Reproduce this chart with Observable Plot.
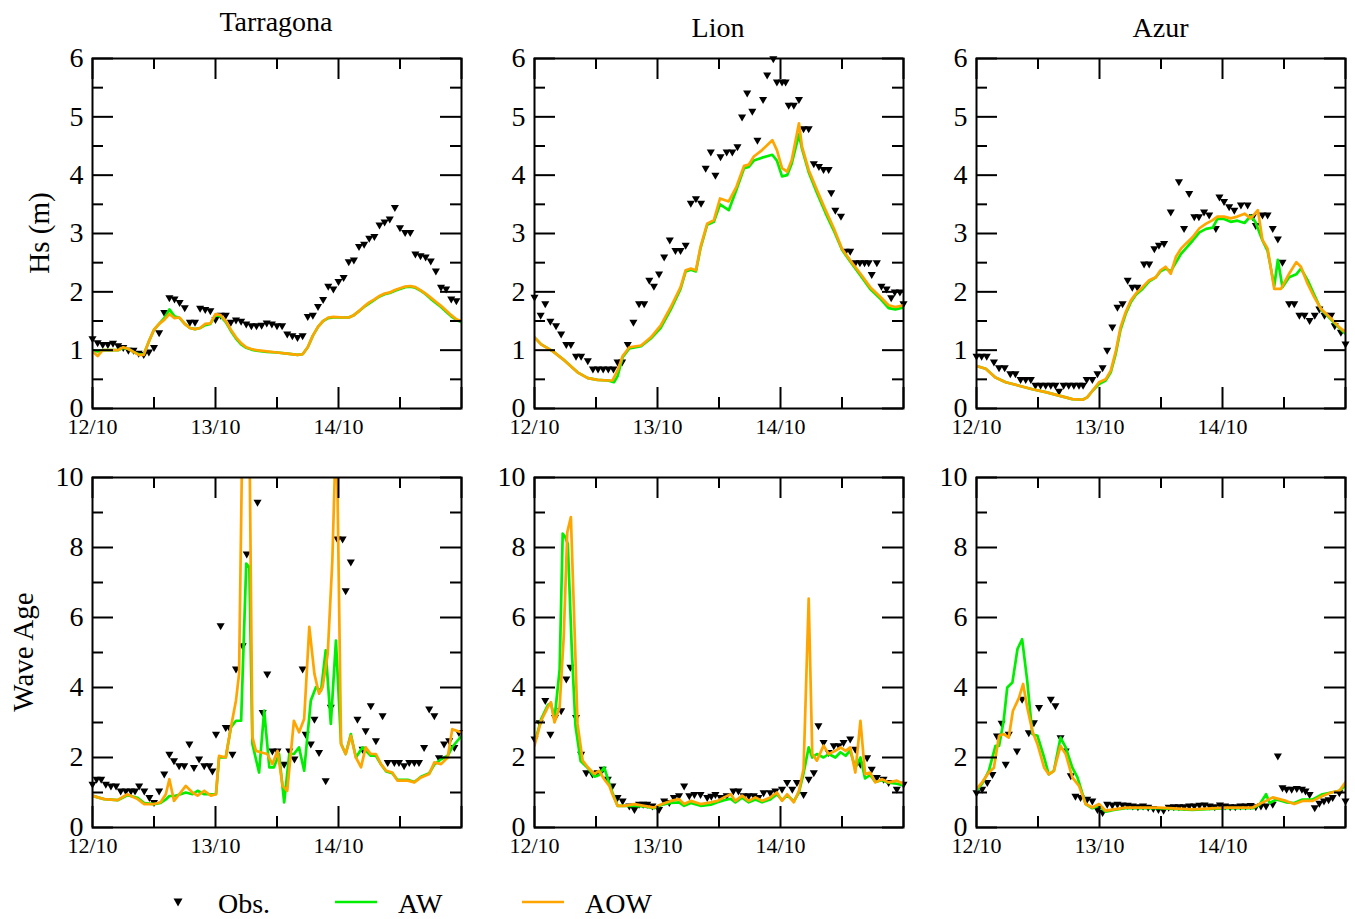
<!DOCTYPE html>
<html><head><meta charset="utf-8">
<script src="https://cdn.jsdelivr.net/npm/d3@7"></script>
<script src="https://cdn.jsdelivr.net/npm/@observablehq/plot@0.6"></script>
<style>
body{margin:0;background:#fff;}
#chart{position:relative;width:1355px;height:919px;overflow:hidden;background:#fff;font-family:"Liberation Serif",serif;}
#chart > svg{position:absolute;margin:0;}
#chart svg, #chart svg text{font-family:"Liberation Serif","Times New Roman",serif !important;}
#chart g[aria-label="y-axis tick label"]{font-size:28px !important;}
#chart g[aria-label="x-axis tick label"]{font-size:22px !important;}
</style></head><body><div id="chart"></div>
<script>
// ---------- axis ticks / labels ----------
const xMajor = [0, 24, 48, 72];
const xMinor = [12, 36, 60];
const xLabels = ["12/10", "13/10", "14/10"];
const hsMajor = [0, 1, 2, 3, 4, 5, 6];
const hsMinor = [0.5, 1.5, 2.5, 3.5, 4.5, 5.5];
const waMajor = [0, 2, 4, 6, 8, 10];
const waMinor = [1, 3, 5, 7, 9];
const stations = ["Tarragona", "Lion", "Azur"];
const seriesNames = ["Obs.", "AW", "AOW"];

// ---------- data: [hour since 12/10 00:00, value] ----------
// Tarragona Hs
const tarHsObs = [[0,1.2],[1,1.13],[2,1.1],[3,1.1],[4,1.12],[5,1.08],[6,1.05],[7,1.0],[8,1.0],[9,0.95],[10,0.93],[11,0.97],[12,1.05],[13,1.3],[14,1.65],[15,1.9],[16,1.88],[17,1.82],[18,1.73],[19,1.48],[20,1.48],[21,1.72],[22,1.7],[23,1.68],[24,1.53],[25,1.6],[26,1.6],[27,1.48],[28,1.52],[29,1.5],[30,1.45],[31,1.42],[32,1.42],[33,1.43],[34,1.47],[35,1.45],[36,1.42],[37,1.42],[38,1.28],[39,1.25],[40,1.22],[41,1.25],[42,1.58],[43,1.6],[44,1.75],[45,1.87],[46,2.1],[47,2.05],[48,2.18],[49,2.25],[50,2.52],[51,2.55],[52,2.78],[53,2.82],[54,2.92],[55,2.95],[56,3.15],[57,3.2],[58,3.25],[59,3.45],[60,3.1],[61,3.02],[62,3.02],[63,2.65],[64,2.62],[65,2.6],[66,2.53],[67,2.36],[68,2.08],[69,2.05],[70,1.88],[71,1.85]];
const tarHsAw = [[0,1.0],[1,0.98],[2,1.0],[4,1.0],[5,1.0],[6,1.04],[7,1.02],[8,0.97],[9,0.93],[10,0.93],[11,1.15],[12,1.35],[13,1.45],[14,1.55],[15,1.7],[16,1.58],[17,1.55],[18,1.45],[19,1.38],[20,1.36],[21,1.38],[22,1.43],[23,1.45],[24,1.6],[25,1.58],[26,1.48],[27,1.33],[28,1.2],[29,1.1],[30,1.04],[31,1.01],[32,0.99],[34,0.97],[36,0.96],[38,0.94],[40,0.92],[41,0.93],[42,1.05],[43,1.25],[44,1.4],[45,1.5],[46,1.55],[47,1.56],[49,1.56],[50,1.56],[51,1.6],[52,1.67],[53,1.74],[54,1.8],[55,1.86],[56,1.92],[57,1.96],[58,1.98],[59,2.02],[60,2.05],[61,2.08],[62,2.09],[63,2.07],[64,2.02],[65,1.96],[66,1.88],[67,1.81],[68,1.74],[69,1.66],[70,1.58],[71,1.52],[72,1.48]];
const tarHsAow = [[0,0.98],[1,0.9],[2,1.0],[4,1.0],[5,1.0],[6,1.05],[7,1.02],[8,0.97],[9,0.92],[10,0.92],[11,1.15],[12,1.35],[13,1.45],[14,1.52],[15,1.62],[16,1.55],[17,1.56],[18,1.45],[19,1.38],[20,1.36],[21,1.38],[22,1.45],[23,1.46],[24,1.62],[25,1.6],[26,1.5],[27,1.35],[28,1.22],[29,1.12],[30,1.05],[31,1.02],[32,1.0],[34,0.98],[36,0.96],[38,0.94],[40,0.92],[41,0.93],[42,1.05],[43,1.25],[44,1.4],[45,1.5],[46,1.56],[47,1.57],[49,1.56],[50,1.56],[51,1.6],[52,1.67],[53,1.75],[54,1.82],[55,1.87],[56,1.93],[57,1.97],[58,1.99],[59,2.03],[60,2.06],[61,2.09],[62,2.1],[63,2.08],[64,2.03],[65,1.97],[66,1.9],[67,1.83],[68,1.76],[69,1.68],[70,1.6],[71,1.53],[72,1.5]];

// Lion Hs
const lionHsObs = [[0,1.91],[1.2,1.6],[2.1,1.8],[3.1,1.5],[4.2,1.42],[5.2,1.28],[6.2,1.1],[7.1,1.1],[8.1,0.9],[9.1,0.9],[10.4,0.82],[11.4,0.68],[12.4,0.68],[13.4,0.68],[14.4,0.68],[15.4,0.68],[16.2,0.8],[17.1,0.8],[18.2,1.1],[19.3,1.48],[20.4,1.8],[21.4,1.8],[22.4,2.2],[23.3,2.1],[24.3,2.31],[25.3,2.6],[26.4,2.89],[27.5,2.71],[28.5,2.71],[29.5,2.8],[30.5,3.52],[31.5,3.6],[32.5,3.52],[33.4,4.12],[34.4,4.4],[35.3,4.0],[36.3,4.32],[37.5,4.4],[38.6,4.4],[39.6,4.49],[40.5,5.0],[41.5,5.41],[42.5,5.1],[43.5,4.6],[44.6,5.3],[45.4,5.72],[46.6,6.0],[47.3,5.6],[48.3,5.6],[49.0,5.6],[49.6,5.2],[50.6,5.2],[51.6,5.3],[52.5,4.8],[53.5,4.8],[54.5,4.2],[55.5,4.15],[56.4,4.1],[57.4,4.1],[57.9,3.7],[58.7,3.4],[59.8,3.3],[60.7,2.7],[61.6,2.7],[62.6,2.5],[63.5,2.5],[64.4,2.5],[65.2,2.5],[65.8,2.3],[66.8,2.5],[67.7,2.1],[68.7,2.05],[69.6,1.9],[70.3,2.0],[71.3,2.0],[72,1.8]];
const lionHsAw = [[0,1.22],[1.3,1.1],[3.6,0.98],[5.9,0.82],[8.4,0.62],[10.4,0.52],[12.3,0.49],[14.3,0.48],[15.5,0.45],[16.2,0.55],[17.2,0.88],[18.5,1.03],[20.8,1.07],[22.7,1.2],[24.6,1.38],[26.6,1.7],[28.5,2.05],[29.5,2.35],[30.5,2.38],[31.5,2.35],[32.4,2.75],[33.7,3.15],[35,3.2],[36.2,3.5],[37.9,3.4],[39.4,3.75],[40.9,4.12],[41.8,4.14],[42.8,4.25],[44.4,4.3],[46.4,4.35],[47.3,4.25],[48.3,3.98],[49.3,4.0],[50.2,4.2],[51.6,4.7],[52.2,4.45],[53.5,4.05],[55.1,3.7],[56.8,3.35],[58.4,3.05],[60,2.72],[61.6,2.52],[63.6,2.28],[65.5,2.05],[67.5,1.88],[69.1,1.72],[70.4,1.7],[72,1.73]];
const lionHsAow = [[0,1.22],[1.3,1.1],[3.6,0.98],[5.9,0.82],[8.4,0.62],[10.4,0.52],[12.3,0.49],[14.3,0.48],[15.2,0.48],[16.2,0.65],[17.2,0.9],[18.5,1.05],[20.8,1.08],[22.7,1.22],[24.6,1.42],[26.6,1.74],[28.5,2.08],[29.5,2.37],[30.5,2.4],[31.5,2.37],[32.4,2.77],[33.7,3.17],[35,3.23],[36.2,3.6],[37.9,3.55],[39.4,3.8],[40.9,4.16],[41.8,4.18],[42.8,4.32],[44.4,4.43],[46.4,4.6],[47.3,4.43],[48.3,4.12],[49.3,4.06],[50.2,4.26],[51.6,4.89],[52.2,4.49],[53.5,4.09],[55.1,3.75],[56.8,3.4],[58.4,3.09],[60,2.74],[61.6,2.54],[63.6,2.31],[65.5,2.08],[67.5,1.91],[69.1,1.77],[70.4,1.74],[72,1.77]];

// Azur Hs
const azurHsObs = [[0,0.9],[1,0.9],[2,0.9],[3.4,0.8],[4.4,0.7],[5.5,0.7],[6.6,0.6],[7.6,0.6],[8.6,0.5],[9.6,0.5],[10.6,0.5],[11.5,0.4],[12.5,0.4],[13.5,0.4],[14.5,0.4],[15.4,0.4],[16.1,0.3],[17,0.4],[18,0.4],[19,0.4],[20,0.4],[20.8,0.4],[21.5,0.5],[22.6,0.5],[23.6,0.6],[24.6,0.7],[25.5,1.0],[26.5,1.4],[27.5,1.74],[28.5,1.8],[29.5,2.2],[30.4,2.08],[31.4,2.08],[32.7,2.48],[33.7,2.48],[34.7,2.74],[35.6,2.8],[36.6,2.83],[37.9,3.37],[39.5,3.89],[40.5,3.09],[41.5,3.69],[42.5,3.29],[43.4,3.29],[44.4,3.37],[45.4,3.32],[46.7,3.09],[47.4,3.63],[48.3,3.55],[49.3,3.46],[50.3,3.4],[51.6,3.49],[52.9,3.49],[53.9,3.29],[54.5,3.14],[55.8,3.32],[56.8,3.32],[57.8,3.09],[58.8,2.91],[59.7,2.51],[61,1.8],[62,1.8],[63,1.6],[64,1.6],[65,1.51],[66,1.6],[66.9,1.71],[67.9,1.6],[69.2,1.6],[69.9,1.42],[71.1,1.31],[72,1.11]];
const azurHsAw = [[0,0.73],[1.8,0.68],[3.7,0.53],[5.7,0.45],[8.3,0.39],[10.9,0.33],[13.5,0.28],[16.1,0.22],[18.7,0.16],[20.7,0.15],[21.6,0.19],[22.6,0.3],[23.9,0.42],[25.2,0.48],[26.2,0.62],[27.2,0.95],[28.1,1.35],[29.1,1.62],[30.1,1.82],[31.1,1.95],[32.4,2.05],[33.7,2.18],[35,2.25],[35.9,2.35],[36.9,2.4],[37.9,2.35],[38.9,2.5],[39.9,2.65],[40.9,2.75],[42.2,2.88],[43.5,3.02],[44.8,3.08],[46.1,3.1],[47,3.25],[48.3,3.25],[49.6,3.2],[50.9,3.22],[52.3,3.18],[53.5,3.3],[54.4,3.2],[55.8,2.88],[56.8,2.7],[58.1,2.1],[58.8,2.55],[59.7,2.08],[61,2.25],[62.4,2.3],[63.3,2.4],[64.6,2.2],[65.9,1.95],[67.2,1.7],[68.9,1.55],[70.8,1.38],[72,1.28]];
const azurHsAow = [[0,0.73],[1.8,0.68],[3.7,0.53],[5.7,0.45],[8.3,0.39],[10.9,0.33],[13.5,0.28],[16.1,0.22],[18.7,0.16],[20.7,0.15],[21.6,0.19],[22.6,0.3],[23.9,0.45],[25.2,0.5],[26.2,0.65],[27.2,0.99],[28.1,1.39],[29.1,1.65],[30.1,1.85],[31.1,1.97],[32.4,2.08],[33.7,2.2],[35,2.25],[35.9,2.37],[36.9,2.43],[37.9,2.31],[38.9,2.6],[39.9,2.74],[40.9,2.83],[42.2,2.94],[43.5,3.09],[44.8,3.17],[46.1,3.23],[47,3.29],[48.3,3.29],[49.6,3.26],[50.9,3.29],[52.3,3.34],[53.5,3.26],[54.9,3.4],[55.8,2.89],[56.8,2.74],[58.1,2.05],[59.4,2.05],[61,2.31],[62.4,2.51],[63.3,2.43],[64.6,2.14],[65.9,1.91],[67.2,1.71],[68.9,1.57],[70.8,1.39],[72,1.31]];

// Tarragona wave age
const tarWaObs = [[0,1.24],[0.8,1.38],[1.7,1.38],[2.6,1.24],[3.6,1.19],[4.6,1.19],[5.5,1.05],[6.5,1.05],[7.5,1.05],[8.3,1.05],[9.1,1.19],[10.1,1.05],[11.1,0.86],[12,0.72],[13,1.05],[14,1.53],[15,2.1],[15.9,1.91],[16.9,1.77],[17.9,1.77],[18.9,2.39],[19.8,1.72],[20.8,1.96],[21.8,1.77],[22.8,1.77],[23.4,1.62],[24.1,2.67],[25,5.77],[26,2.86],[26.7,2.86],[27.3,2.1],[28,4.53],[29.3,5.2],[30.1,7.82],[32.2,9.3],[33.2,3.29],[34.1,4.39],[35.1,2.19],[36.1,2.19],[37.4,1.81],[38.4,2.19],[39.4,1.96],[41,4.53],[41.6,2.67],[42.6,2.39],[43.3,3.1],[44.2,2.15],[45.5,1.34],[46.5,3.44],[47.8,8.25],[48.8,8.25],[49.4,6.77],[50.4,7.59],[51.7,3.1],[52.7,2.24],[53.3,2.77],[54.3,3.48],[55.3,2.48],[56.6,3.2],[57.6,1.86],[58.9,1.86],[59.8,1.86],[60.8,1.77],[61.8,1.86],[62.8,1.86],[63.7,1.86],[64.7,2.29],[65.7,3.39],[66.7,3.2],[67.6,2.0],[68.6,2.39],[69.6,2.48],[70.6,2.29],[71.5,2.72]];
const tarWaAw = [[0,0.91],[1,0.86],[2.3,0.81],[4.9,0.78],[6.8,0.92],[8.8,0.85],[10.1,0.7],[12,0.67],[13.3,0.7],[14.3,0.8],[15,0.9],[16,0.9],[17.2,0.95],[18.2,1.0],[19.5,0.95],[20.5,1.05],[21.8,0.95],[23.1,0.95],[24.1,0.95],[24.7,2.0],[26,2.0],[27,2.86],[28,3.05],[29,3.05],[30,7.54],[30.6,7.44],[31.2,2.39],[32.5,1.57],[33.5,3.34],[34.5,1.72],[35.4,1.72],[36.4,2.1],[37.4,0.72],[38.4,2.1],[39.3,2.1],[40.3,2.29],[41.3,1.62],[42.6,3.63],[43.6,4.01],[44.6,3.91],[45.5,5.06],[46.5,2.96],[47.5,5.34],[48.5,2.39],[49.4,2.1],[50.4,2.67],[51.4,2.0],[52.7,2.29],[54.3,2.05],[55.3,2.05],[56.3,1.8],[57.3,1.6],[58.5,1.55],[59.5,1.36],[61.5,1.36],[62.8,1.3],[64.1,1.45],[65.7,1.55],[66.7,1.8],[68,1.95],[69.3,2.05],[70.2,2.3],[71.9,2.6]];
const tarWaAow = [[0,0.91],[1,0.86],[2.3,0.81],[4.9,0.78],[6.8,0.95],[8.8,0.81],[10.1,0.67],[12,0.67],[13.3,0.72],[14.3,0.95],[15,1.38],[15.9,0.76],[17.2,1.0],[18.2,1.19],[19.5,1.0],[20.5,0.91],[21.8,1.05],[23.1,0.91],[24.1,0.95],[24.7,2.05],[26,2.0],[27,2.86],[28,3.63],[28.6,4.39],[29.4,13],[30.5,13],[31.2,2.58],[31.9,2.19],[32.8,2.15],[34.1,2.1],[35.1,1.81],[36.1,2.19],[37.1,1.19],[38,1.05],[39.3,3.05],[40.3,2.72],[41.3,3.1],[42.3,5.73],[43.3,4.39],[44.2,3.82],[44.9,4.01],[45.9,4.96],[46.8,7.63],[47.6,11.8],[48.5,2.39],[49.4,2.1],[50.4,2.62],[51.4,2.0],[52.4,1.72],[53.3,2.29],[54.3,2.1],[55.3,2.1],[56.3,1.81],[57.3,1.62],[58.5,1.57],[59.5,1.34],[61.5,1.34],[62.8,1.29],[64.1,1.43],[65.7,1.53],[66.7,1.86],[68,1.81],[69.3,2.0],[70.2,2.81],[71.9,2.72]];

// Lion wave age
const lionWaObs = [[0,2.53],[1,3.0],[2.1,3.63],[3.1,2.67],[4,3.15],[5.2,3.34],[6.2,4.25],[7,4.58],[8.1,3.15],[9.1,2.1],[10.1,1.57],[11.3,1.53],[12.3,1.57],[13.3,1.67],[14.3,1.38],[15.2,1.19],[16.2,0.86],[17.2,0.76],[18.5,0.62],[19.5,0.52],[20.4,0.67],[21.2,0.67],[22,0.67],[23,0.62],[24.3,0.52],[25.3,0.76],[26.3,0.72],[27.2,0.86],[28.2,0.91],[29.2,1.19],[30.2,0.91],[31.2,0.95],[32.4,0.95],[33.7,0.86],[34.5,0.9],[35.3,0.95],[36.3,0.86],[37.5,0.91],[38.8,1.05],[39.8,1.05],[40.8,0.91],[41.8,0.91],[42.8,0.91],[43.7,0.86],[44.7,1.0],[46,1.0],[47,1.05],[48.3,1.1],[49.3,1.29],[50.3,1.1],[51.2,1.29],[52.5,0.95],[53.5,1.38],[54.5,1.57],[55.4,2.91],[56.4,2.43],[57.4,2.15],[58.4,2.34],[59.4,2.34],[60.3,2.43],[61.6,2.53],[62.6,2.24],[63.6,1.81],[64.9,2.0],[65.8,1.67],[66.8,1.43],[68.1,1.38],[69.1,1.29],[70.7,1.1],[72,1.24]];
const lionWaAw = [[0,2.4],[1.3,3.1],[2.6,3.5],[3.2,3.55],[3.9,3.1],[4.9,4.5],[5.5,8.4],[6.0,8.3],[6.5,8.1],[7.3,5.0],[8.0,2.9],[9.0,1.9],[10.4,1.7],[11.7,1.45],[12.6,1.5],[13.6,1.72],[14.6,1.25],[15.2,1.0],[16.2,0.62],[17.5,0.62],[19.5,0.62],[21.4,0.6],[23.3,0.55],[24.9,0.65],[26.6,0.7],[28.2,0.72],[29.2,0.62],[30.5,0.7],[32.4,0.62],[34.4,0.65],[35.7,0.72],[37,0.78],[38.3,0.82],[39.2,0.72],[40.5,0.85],[41.8,0.72],[43.1,0.8],[44.4,0.72],[46,0.8],[47.3,0.95],[48.3,0.78],[49.3,0.92],[50.6,0.75],[51.6,1.0],[52.5,1.55],[53.5,2.29],[54.2,2.0],[55.1,2.1],[56.4,2.0],[57.4,2.1],[58.7,2.0],[59.7,2.15],[60.7,2.05],[61.6,2.2],[62.6,1.7],[63.6,2.0],[64.5,1.4],[65.5,1.5],[66.5,1.3],[67.8,1.35],[69.1,1.28],[70.7,1.25],[72,1.2]];
const lionWaAow = [[0,2.34],[1.3,3.05],[2.6,3.44],[3.2,3.58],[3.9,3.0],[4.9,3.44],[5.7,5.44],[6.4,8.44],[7.1,8.87],[7.8,5.73],[8.4,2.96],[9.4,1.91],[10.4,1.72],[11.7,1.53],[12.6,1.62],[13.6,1.38],[14.6,1.19],[15.2,0.95],[16.2,0.62],[17.5,0.62],[19.5,0.67],[21.4,0.62],[23.3,0.57],[24.9,0.67],[26.6,0.76],[28.2,0.81],[29.2,0.67],[30.5,0.76],[32.4,0.67],[34.4,0.72],[35.7,0.76],[37,0.86],[38.3,0.95],[39.2,0.76],[40.5,0.91],[41.8,0.76],[43.1,0.86],[44.4,0.76],[46,0.86],[47.3,1.0],[48.3,0.76],[49.3,0.95],[50.6,0.72],[51.6,1.05],[52.5,1.67],[53.5,6.54],[54.2,2.1],[55.1,1.91],[56.4,2.34],[57.4,2.1],[58.7,2.19],[59.7,2.29],[60.7,2.19],[61.6,2.29],[62.6,1.57],[63.6,3.05],[64.5,1.53],[65.5,1.57],[66.5,1.29],[67.8,1.38],[69.1,1.29],[70.7,1.34],[72,1.24]];

// Azur wave age
const azurWaObs = [[0,1.0],[1.1,1.1],[2.1,1.29],[3.1,1.52],[4,2.62],[4.9,2.98],[5.7,1.81],[6.3,2.67],[7.9,2.19],[8.9,3.67],[10.2,2.71],[11.2,3.0],[12.2,3.43],[14.5,3.67],[15.4,3.48],[16.4,2.57],[17.4,2.19],[18.4,1.48],[19.3,0.9],[20.3,0.86],[21.6,0.81],[22.6,0.76],[23.6,0.52],[24.6,0.43],[25.5,0.67],[26.5,0.65],[27.5,0.67],[28.5,0.65],[29.5,0.64],[30.5,0.62],[31.5,0.6],[32.5,0.62],[33.5,0.58],[34.5,0.55],[35.5,0.52],[36.5,0.5],[37.5,0.58],[38.5,0.6],[39.5,0.6],[40.5,0.6],[41.5,0.62],[42.5,0.62],[43.5,0.64],[44.5,0.65],[45.5,0.62],[46.5,0.6],[47.5,0.65],[48.5,0.62],[49.5,0.6],[50.5,0.6],[51.5,0.62],[52.5,0.62],[53.5,0.63],[54.5,0.6],[55.5,0.62],[56.5,0.62],[57.8,0.67],[58.8,2.05],[59.7,1.14],[60.5,1.1],[61.5,1.1],[62.5,1.12],[63.5,1.1],[64.2,1.05],[65,0.95],[66,0.57],[66.9,0.7],[67.8,0.76],[68.7,0.8],[69.5,0.86],[70.8,1.0],[72,0.76]];
const azurWaAw = [[0,1.05],[1.1,1.25],[2.4,1.62],[3.7,2.33],[4.4,2.33],[5.3,3.05],[6,4.0],[7,4.14],[8,5.1],[8.9,5.38],[9.9,4.19],[10.9,2.67],[11.9,2.62],[13.2,2.0],[14.1,1.52],[15.1,1.62],[16.4,2.57],[17.4,2.29],[18.7,1.71],[19.7,1.43],[21.3,0.67],[22.6,0.55],[23.9,0.62],[25.2,0.45],[26.8,0.5],[29.1,0.55],[35.6,0.55],[42.1,0.5],[48.7,0.55],[53.9,0.55],[55.2,0.65],[56.5,0.95],[57.2,0.7],[58.5,0.8],[60.4,0.72],[62,0.7],[63.6,0.8],[65.6,0.8],[67.5,0.95],[69.2,1.0],[70.8,1.05],[72,1.2]];
const azurWaAow = [[0,1.1],[1.1,1.29],[2.4,1.57],[3.4,1.71],[4.4,2.62],[5.3,2.67],[6.3,2.57],[7.1,3.33],[8.3,3.71],[9.1,4.1],[9.9,3.43],[10.9,2.76],[11.9,2.38],[13.2,1.71],[14.1,1.52],[15.1,1.62],[16.4,2.33],[17.4,2.1],[18.7,1.43],[20,1.19],[21.3,0.67],[22.6,0.57],[23.9,0.67],[25.2,0.48],[26.8,0.52],[29.1,0.57],[35.6,0.57],[42.1,0.52],[48.7,0.57],[53.9,0.57],[55.2,0.67],[56.5,0.76],[57.8,0.86],[59.1,0.81],[60.4,0.76],[62,0.67],[63.6,0.76],[65.6,0.76],[67.5,0.9],[69.2,1.0],[70.8,1.05],[72,1.29]];

// ---------- layout ----------
const GREEN = "#00ee00", ORANGE = "#ffa500";
const FW = 369, FH = 350, ML = 70, MR = 14, MT = 14, MB = 44;
const colX = [91.5, 533.5, 976];
const rowY = [58, 477];
const FONT = '"Liberation Serif", "Times New Roman", serif';
const chart = document.getElementById("chart");

function panel(obs, aw, aow, yMax, yMajor, yMinor, fx, fy) {
  const X = d => d[0], Y = d => d[1];
  const tickX = (ticks, len, side) => Plot.ruleX(ticks, {x: d => d, stroke: "#000", strokeWidth: 2,
    insetTop: side === "bottom" ? FH - len : 0, insetBottom: side === "top" ? FH - len : 0});
  const tickY = (ticks, len, side) => Plot.ruleY(ticks, {y: d => d, stroke: "#000", strokeWidth: 2,
    insetRight: side === "left" ? FW - len : 0, insetLeft: side === "right" ? FW - len : 0});
  const svg = Plot.plot({
    width: FW + ML + MR, height: FH + MT + MB,
    marginLeft: ML, marginRight: MR, marginTop: MT, marginBottom: MB,
    x: {domain: [0, 72]},
    y: {domain: [0, yMax]},
    style: {fontFamily: FONT, color: "#000", background: "transparent", overflow: "visible"},
    marks: [
      Plot.dot(obs, {x: X, y: Y, symbol: "triangle", rotate: 180, r: 3, fill: "#000", stroke: "none"}),
      Plot.line(aw, {x: X, y: Y, stroke: GREEN, strokeWidth: 2.7, clip: true}),
      Plot.line(aow, {x: X, y: Y, stroke: ORANGE, strokeWidth: 2.7, clip: true}),
      tickX(xMajor, 21, "bottom"), tickX(xMajor, 21, "top"),
      tickX(xMinor, 11, "bottom"), tickX(xMinor, 11, "top"),
      tickY(yMajor, 21, "left"), tickY(yMajor, 21, "right"),
      tickY(yMinor, 11, "left"), tickY(yMinor, 11, "right"),
      Plot.frame({stroke: "#000", strokeWidth: 2}),
      Plot.axisX(xMajor.slice(0, 3), {tickSize: 0, tickPadding: 10, fontSize: 22, fontFamily: FONT, label: null,
        tickFormat: d => xLabels[xMajor.indexOf(d)]}),
      Plot.axisY(yMajor, {tickSize: 0, tickPadding: 9, fontSize: 28, fontFamily: FONT, label: null, tickFormat: d => String(d)})
    ]
  });
  svg.style.left = (fx - ML) + "px";
  svg.style.top = (fy - MT) + "px";
  chart.appendChild(svg);
}

panel(tarHsObs, tarHsAw, tarHsAow, 6, hsMajor, hsMinor, colX[0], rowY[0]);
panel(lionHsObs, lionHsAw, lionHsAow, 6, hsMajor, hsMinor, colX[1], rowY[0]);
panel(azurHsObs, azurHsAw, azurHsAow, 6, hsMajor, hsMinor, colX[2], rowY[0]);
panel(tarWaObs, tarWaAw, tarWaAow, 10, waMajor, waMinor, colX[0], rowY[1]);
panel(lionWaObs, lionWaAw, lionWaAow, 10, waMajor, waMinor, colX[1], rowY[1]);
panel(azurWaObs, azurWaAw, azurWaAow, 10, waMajor, waMinor, colX[2], rowY[1]);

// ---------- titles, y-axis titles and legend (overlay) ----------
const NS = "http://www.w3.org/2000/svg";
const ov = document.createElementNS(NS, "svg");
ov.setAttribute("width", 1355); ov.setAttribute("height", 919);
ov.style.left = "0px"; ov.style.top = "0px"; ov.style.pointerEvents = "none";
chart.appendChild(ov);
function txt(s, x, y, size, opts = {}) {
  const t = document.createElementNS(NS, "text");
  t.textContent = s;
  t.setAttribute("x", x); t.setAttribute("y", y);
  t.setAttribute("font-size", size); t.setAttribute("font-family", FONT);
  t.setAttribute("fill", "#000");
  t.setAttribute("text-anchor", opts.anchor || "start");
  if (opts.rotate) t.setAttribute("transform", `rotate(-90 ${x} ${y})`);
  ov.appendChild(t);
  return t;
}
const titleY = [31, 37, 37];
stations.forEach((s, i) => txt(s, colX[i] + FW / 2, titleY[i], 28, {anchor: "middle"}));
txt("Hs (m)", 49, rowY[0] + FH / 2, 29, {anchor: "middle", rotate: true});
txt("Wave Age", 33, rowY[1] + FH / 2, 29, {anchor: "middle", rotate: true});

// legend
const tri = document.createElementNS(NS, "path");
tri.setAttribute("d", "M173.5,898.5 L182.5,898.5 L178,906.5 Z");
tri.setAttribute("fill", "#000");
ov.appendChild(tri);
txt(seriesNames[0], 218, 913, 28);
[[GREEN, 335, 377, 398], [ORANGE, 522, 564, 585]].forEach(([c, x1, x2, tx], i) => {
  const l = document.createElementNS(NS, "line");
  l.setAttribute("x1", x1); l.setAttribute("x2", x2);
  l.setAttribute("y1", 902); l.setAttribute("y2", 902);
  l.setAttribute("stroke", c); l.setAttribute("stroke-width", 2.6);
  ov.appendChild(l);
  txt(seriesNames[i + 1], tx, 913, 28);
});
</script>
</body></html>
